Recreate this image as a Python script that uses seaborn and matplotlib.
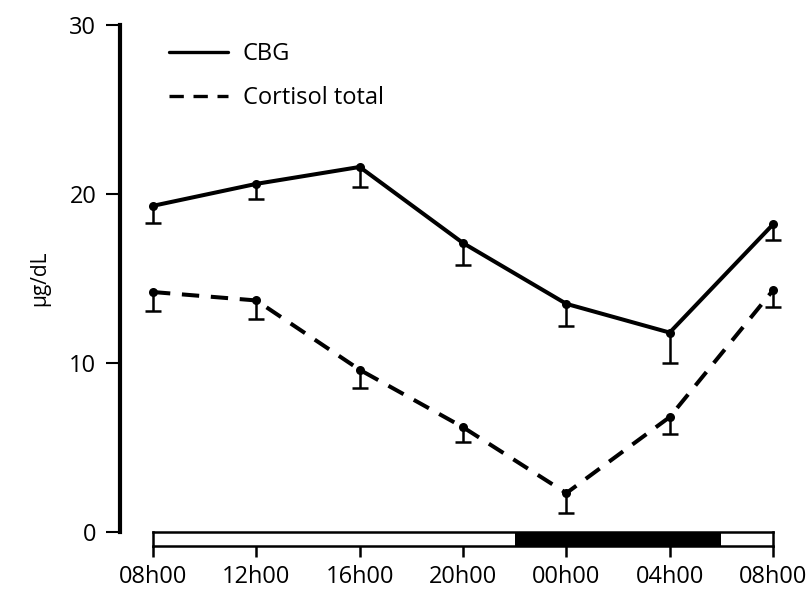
import numpy as np
import pandas as pd
import seaborn as sns
import matplotlib.pyplot as plt
from matplotlib.patches import Rectangle

# hours after 08h00
hours = [0, 4, 8, 12, 16, 20, 24]
tick_labels = ["08h00", "12h00", "16h00", "20h00", "00h00", "04h00", "08h00"]

cbg_mean = [19.3, 20.6, 21.6, 17.1, 13.5, 11.8, 18.2]
cbg_err = [1.0, 0.9, 1.2, 1.3, 1.3, 1.8, 0.9]

cortisol_mean = [14.2, 13.7, 9.6, 6.2, 2.3, 6.8, 14.3]
cortisol_err = [1.1, 1.1, 1.1, 0.9, 1.2, 1.0, 1.0]

# dark period 22h00 -> 06h00
dark_start, dark_end = 14, 22

sns.set_theme(style="white")
plt.rcParams["font.family"] = ["Open Sans", "DejaVu Sans"]
plt.rcParams["text.color"] = "black"

df = pd.DataFrame({
    "hora": hours * 2,
    "valor": cbg_mean + cortisol_mean,
    "serie": ["CBG"] * len(hours) + ["Cortisol total"] * len(hours),
})

fig = plt.figure(figsize=(8.07, 5.90), dpi=100)
W, H = 807, 590
px_per_h = (773 - 153) / 24

# main axes
ax = fig.add_axes([120 / W, (H - 532) / H, (790 - 120) / W, (532 - 25) / H])
sns.lineplot(data=df, x="hora", y="valor", style="serie", color="black",
             dashes={"CBG": "", "Cortisol total": (4.3, 2.9)},
             marker="o", markersize=6.5, markeredgewidth=0, linewidth=2.9,
             ax=ax, legend=True)

# only the lower half of each error bar is drawn
for mean, err in [(cbg_mean, cbg_err), (cortisol_mean, cortisol_err)]:
    _, caps, _ = ax.errorbar(hours, mean, yerr=[err, np.zeros(len(err))],
                             fmt="none", ecolor="black", elinewidth=1.8,
                             capsize=5.5, capthick=1.8)
    caps[1].set_visible(False)

ax.set_xlim((120 - 153) / px_per_h, (790 - 153) / px_per_h)
ax.set_ylim(0, 30)
ax.set_yticks([0, 10, 20, 30])
ax.set_xticks([])
ax.set_xlabel("")
ax.set_ylabel("µg/dL", fontsize=15, labelpad=14, color="black")
for s in ["top", "right", "bottom"]:
    ax.spines[s].set_visible(False)
ax.spines["left"].set_linewidth(3)
ax.spines["left"].set_color("black")
ax.tick_params(axis="y", direction="out", length=10, width=1.5,
               pad=7, labelsize=17, left=True, colors="black")

leg = ax.legend(loc="upper left", bbox_to_anchor=(0.042, 1.008), frameon=False,
                fontsize=17, handlelength=2.5, handletextpad=0.6,
                labelspacing=0.86, title=None)
for line in leg.get_lines():
    line.set_marker("")
    line.set_linewidth(2.4)

# light/dark bar
bx = fig.add_axes([153 / W, (H - 546) / H, (773 - 153) / W, 14 / H])
bx.add_patch(Rectangle((dark_start, 0), dark_end - dark_start, 1,
                       color="black", lw=0))
bx.set_xlim(0, 24)
bx.set_ylim(0, 1)
bx.set_yticks([])
bx.set_xticks(hours)
bx.set_xticklabels(tick_labels)
for s in bx.spines.values():
    s.set_linewidth(1.8)
    s.set_color("black")
bx.tick_params(axis="x", direction="out", length=8, width=1.8,
               pad=6, labelsize=17, bottom=True, colors="black")

fig.savefig("out.png", dpi=100)
